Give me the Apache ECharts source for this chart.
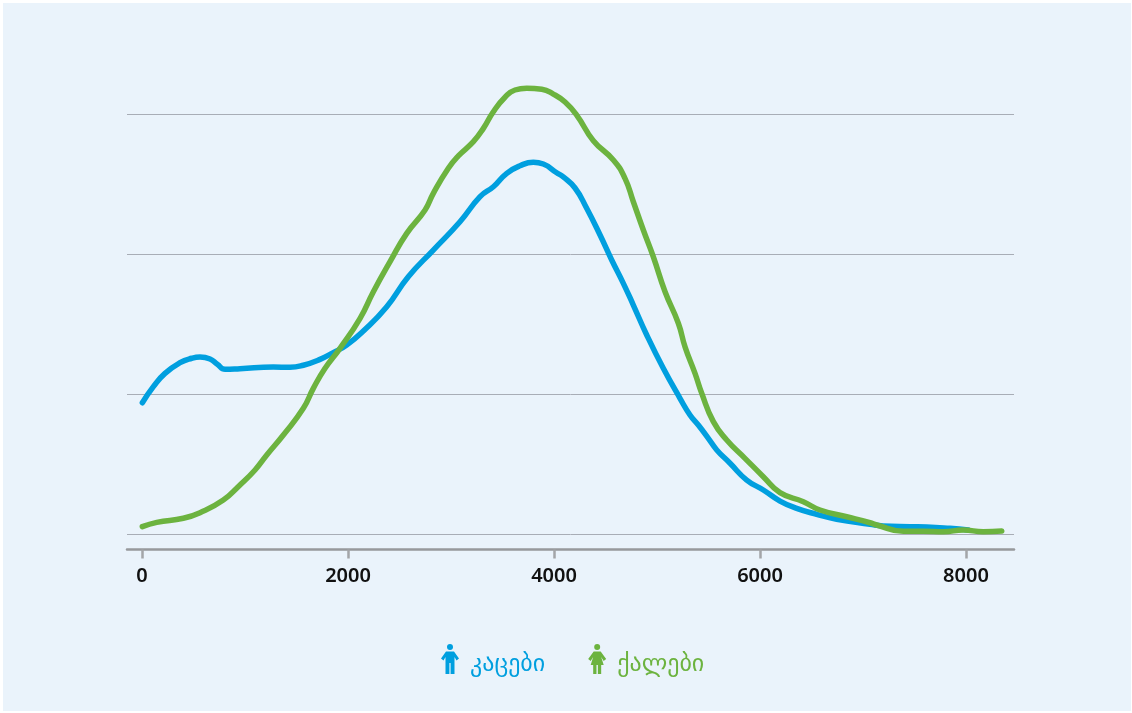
<!DOCTYPE html>
<html><head><meta charset="utf-8">
<style>html,body{margin:0;padding:0;background:#fff}#c{width:1132px;height:713px}</style>
<script src="https://cdn.jsdelivr.net/npm/echarts@6/dist/echarts.min.js"></script>
</head><body><div id="c"></div>
<script>
const xTicks=[0,2000,4000,6000,8000];
const seriesNames=['კაცები','ქალები'];
const menX=[3,110,223,369,483,563,660,731,806,951,1275,1437,1566,1728,1857,1987,2149,2376,2585,2828,3087,3282,3411,3541,3670,3799,3896,4026,4090,4204,4317,4447,4560,4673,4770,4900,5061,5223,5320,5401,5498,5580,5709,5871,6032,6194,6356,6550,6744,7068,7194,7456,7618,7845,8022];
const menY=[94.1,105.6,115.1,122.7,125.9,126.8,125.4,121.6,118,118.4,119.6,119.4,120.9,125.1,129.9,135.4,145.4,162.7,184.1,203.2,223.4,241.3,248.4,258,263.4,265.9,264.6,258.4,255.4,247.5,233,213.9,196.1,179.4,163.9,142.5,118.7,97.3,85.4,78.2,68.7,60.4,50.9,38.9,31.8,23.9,18.7,14.4,10.9,7.3,6.1,5.6,5.4,4.4,3.2];
const womenX=[3,143,401,563,789,951,1097,1211,1372,1566,1663,1777,1922,2117,2246,2408,2570,2748,2828,2974,3071,3217,3314,3411,3524,3621,3735,3881,3993,4107,4220,4382,4576,4689,4770,4867,4964,5078,5207,5272,5369,5434,5547,5677,5854,6032,6194,6421,6583,6842,7068,7133,7392,7586,7780,7974,8168,8347];
const womenY=[5.6,8.7,11.6,15.6,24.6,35.4,46.1,56.8,71.1,90.1,104.4,118.7,133,154.4,173.4,194.9,215.1,231.8,243.7,261.6,270.4,280.6,290.1,302,312.3,317.5,318.7,318,314.6,308.9,299.6,281.3,267.5,254.4,237.7,217.5,198.4,173.4,150.9,134.1,115.1,100.9,80.6,67.5,54.4,41.3,29.9,23.4,17.5,12.7,8.4,6.8,2.3,2.3,2,3.2,2,2.5];
const zip=(a,b)=>a.map((v,i)=>[v,b[i]]);
const BLUE='#009fdf',GREEN='#6cb33f';
const manIcon='path://M9 0a3 3 0 1 0 .01 0zM5 7.5H13L18 14.5 15.5 16.5 13.5 13V30H9.6V19H8.4V30H4.5V13L2.5 16.5 0 14.5Z';
const womanIcon='path://M9 0a3 3 0 1 0 .01 0zM5.5 7.5H12.5L18 15 15.5 17 13 13 15.5 21H13V30H9.7V21H8.3V30H5V21H2.5L5 13 2.5 17 0 15Z';
const chart=echarts.init(document.getElementById('c'),null,{renderer:'canvas'});
const line=(name,data,color)=>({name,type:'line',data,smooth:0.5,symbol:'none',clip:false,
  lineStyle:{color,width:5.5,cap:'round',join:'round'},itemStyle:{color},emphasis:{disabled:true}});
const legendToken=color=>({color,fontSize:24,fontFamily:'"DejaVu Sans",sans-serif',padding:[12,0,0,6]});
chart.setOption({
  animation:false,
  backgroundColor:'#fff',
  graphic:[{type:'rect',z:-10,silent:true,shape:{x:3,y:3,width:1128,height:708},style:{fill:'#eaf3fb'}}],
  textStyle:{fontFamily:'"Noto Sans","DejaVu Sans",sans-serif'},
  grid:{left:127,right:118,top:114.5,height:420},
  xAxis:{type:'value',min:-146,max:8466,offset:15,position:'bottom',
    splitLine:{show:false},
    axisLine:{onZero:false,lineStyle:{color:'#97999c',width:2.5}},
    axisTick:{show:true,length:9,customValues:xTicks,lineStyle:{color:'#a3a5a8',width:2.5}},
    axisLabel:{customValues:xTicks,margin:17,color:'#111',fontSize:20,fontWeight:600,fontFamily:'"Noto Sans",sans-serif',formatter:v=>String(v)}},
  yAxis:{type:'value',min:0,max:300,interval:100,
    axisLine:{show:false},axisTick:{show:false},axisLabel:{show:false},
    splitLine:{lineStyle:{color:'#a8adb6',width:1}}},
  legend:{left:441,top:644,padding:0,orient:'horizontal',itemWidth:18,itemHeight:30,itemGap:43,selectedMode:false,
    formatter:n=>(n===seriesNames[0]?'{m|':'{f|')+n+'}',
    textStyle:{rich:{m:legendToken(BLUE),f:legendToken(GREEN)}},
    data:[
      {name:seriesNames[0],icon:manIcon,itemStyle:{color:BLUE}},
      {name:seriesNames[1],icon:womanIcon,itemStyle:{color:GREEN}}
    ]},
  series:[line(seriesNames[0],zip(menX,menY),BLUE),line(seriesNames[1],zip(womenX,womenY),GREEN)]
});
</script></body></html>
